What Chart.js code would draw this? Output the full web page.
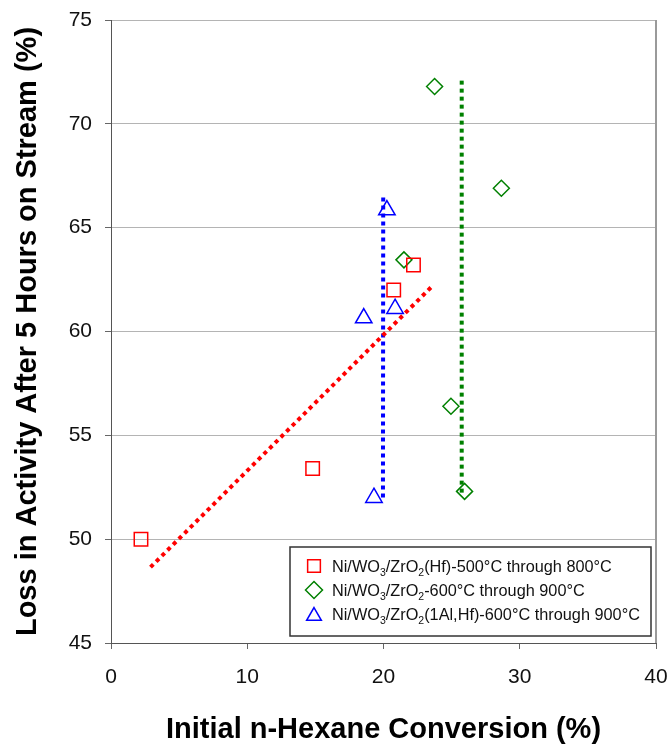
<!DOCTYPE html>
<html>
<head>
<meta charset="utf-8">
<script src="https://cdn.jsdelivr.net/npm/chart.js@4.4.1/dist/chart.umd.min.js"></script>
<style>
  html, body { margin: 0; padding: 0; background: #fff; }
  #wrap { width: 672px; height: 744px; }
</style>
</head>
<body>
<div id="wrap"><canvas id="chart" width="672" height="744"></canvas></div>
<script>
// values
const redX = [2.2, 14.8, 20.75, 22.2];
const redY = [50.0, 53.4, 62.0, 63.2];
const greenX = [23.75, 28.65, 21.5, 24.95, 25.95];
const greenY = [71.8, 66.9, 63.45, 56.4, 52.3];
const blueX = [20.25, 18.55, 20.85, 19.3];
const blueY = [65.85, 60.65, 61.1, 52.0];

// dotted trend lines (end points)
const redTrendX = [2.9, 23.6];
const redTrendY = [48.65, 62.2];
const blueTrendX = [19.98, 19.96];
const blueTrendY = [66.45, 51.85];
const greenTrendX = [25.74, 25.74];
const greenTrendY = [72.08, 52.05];

const xTicks = [0, 10, 20, 30, 40];
const yTicks = [45, 50, 55, 60, 65, 70, 75];

const seriesNames = [
  ["Ni/WO", "3", "/ZrO", "2", "(Hf)-500°C through 800°C"],
  ["Ni/WO", "3", "/ZrO", "2", "-600°C through 900°C"],
  ["Ni/WO", "3", "/ZrO", "2", "(1Al,Hf)-600°C through 900°C"]
];

const FONT = "'Liberation Sans', Arial, sans-serif";
const pts = (xs, ys) => xs.map((x, i) => ({ x: x, y: ys[i] }));

// boxed legend with subscripts
const boxLegend = {
  id: "boxLegend",
  afterDatasetsDraw(chart) {
    const ctx = chart.ctx;
    const bx = 290, by = 547, bw = 361, bh = 89;
    ctx.save();
    ctx.fillStyle = "#fff";
    ctx.fillRect(bx, by, bw, bh);
    ctx.strokeStyle = "#333";
    ctx.lineWidth = 1.5;
    ctx.strokeRect(bx, by, bw, bh);

    const styles = [
      { pointStyle: "rect", radius: 9, color: "#ff0000" },
      { pointStyle: "rectRot", radius: 8.5, color: "#008000" },
      { pointStyle: "triangle", radius: 8.5, color: "#0000ff" }
    ];
    seriesNames.forEach((parts, i) => {
      const cy = 566 + i * 24;
      const s = styles[i];
      ctx.strokeStyle = s.color;
      ctx.fillStyle = "rgba(0,0,0,0)";
      ctx.lineWidth = 1.5;
      Chart.helpers.drawPoint(ctx, { pointStyle: s.pointStyle, radius: s.radius, borderWidth: 1.5, rotation: 0 }, 314, cy + (s.pointStyle === "triangle" ? 2 : 0));

      let x = 332;
      ctx.fillStyle = "#111";
      ctx.textBaseline = "alphabetic";
      ctx.textAlign = "left";
      parts.forEach((p, j) => {
        const sub = (j === 1 || j === 3);
        ctx.font = (sub ? "10.5px " : "16.3px ") + FONT;
        ctx.fillText(p, x, cy + 6 + (sub ? 4 : 0));
        x += ctx.measureText(p).width;
      });
    });
    ctx.restore();
  }
};

// right edge of the plot frame
const rightFrame = {
  id: "rightFrame",
  beforeDatasetsDraw(chart) {
    const { ctx, chartArea } = chart;
    ctx.save();
    ctx.strokeStyle = "#9a9a9a";
    ctx.lineWidth = 2;
    ctx.beginPath();
    ctx.moveTo(chartArea.right, chartArea.top);
    ctx.lineTo(chartArea.right, chartArea.bottom);
    ctx.stroke();
    ctx.restore();
  }
};

const markerDefaults = { showLine: false, borderWidth: 1.5, backgroundColor: "rgba(0,0,0,0)" };
const dotted = { showLine: true, pointRadius: 0, borderWidth: 4, borderDash: [4, 4], borderCapStyle: "butt", fill: false };

new Chart(document.getElementById("chart"), {
  type: "scatter",
  data: {
    datasets: [
      Object.assign({ label: seriesNames[0].join(""), data: pts(redX, redY), pointStyle: "rect", pointRadius: 9.5, borderColor: "#ff0000" }, markerDefaults),
      Object.assign({ label: seriesNames[1].join(""), data: pts(greenX, greenY), pointStyle: "rectRot", pointRadius: 8, borderColor: "#008000" }, markerDefaults),
      Object.assign({ label: seriesNames[2].join(""), data: pts(blueX, blueY), pointStyle: "triangle", pointRadius: 9.5, borderColor: "#0000ff" }, markerDefaults),
      Object.assign({ label: "red trend", data: pts(redTrendX, redTrendY), borderColor: "#ff0000" }, dotted),
      Object.assign({ label: "blue trend", data: pts(blueTrendX, blueTrendY), borderColor: "#0000ff" }, dotted),
      Object.assign({ label: "green trend", data: pts(greenTrendX, greenTrendY), borderColor: "#008000" }, dotted)
    ]
  },
  options: {
    responsive: false,
    animation: false,
    devicePixelRatio: 1,
    layout: { padding: { left: 0, right: 16, top: 20, bottom: 0 } },
    plugins: { legend: { display: false }, tooltip: { enabled: false } },
    scales: {
      x: {
        type: "linear",
        min: 0, max: 40,
        afterBuildTicks: (axis) => { axis.ticks = xTicks.map(v => ({ value: v })); },
        afterFit: (axis) => { axis.height = 101; axis.paddingLeft = 0; axis.paddingRight = 0; },
        grid: { display: true, drawOnChartArea: false, drawTicks: true, tickLength: 6, color: "#666" },
        border: { display: true, color: "#555", width: 1 },
        ticks: { color: "#111", font: { family: FONT, size: 21 }, padding: 16, maxRotation: 0 },
        title: { display: true, text: "Initial n-Hexane Conversion (%)", color: "#000",
                 font: { family: FONT, size: 29, weight: "bold", lineHeight: 1 }, padding: { top: 0, bottom: 0 } }
      },
      y: {
        type: "linear",
        min: 45, max: 75,
        afterBuildTicks: (axis) => { axis.ticks = yTicks.map(v => ({ value: v })); },
        afterFit: (axis) => { axis.width = 111; axis.paddingTop = 0; axis.paddingBottom = 0; },
        grid: { color: "#b4b4b4", lineWidth: 1, tickLength: 6, tickColor: "#666" },
        border: { display: true, color: "#555", width: 1 },
        ticks: { color: "#111", font: { family: FONT, size: 21 }, padding: 13 },
        title: { display: true, text: "Loss in Activity After 5 Hours on Stream (%)", color: "#000",
                 font: { family: FONT, size: 29, weight: "bold", lineHeight: 1 }, padding: { top: 13, bottom: 0 } }
      }
    }
  },
  plugins: [rightFrame, boxLegend]
});
</script>
</body>
</html>
